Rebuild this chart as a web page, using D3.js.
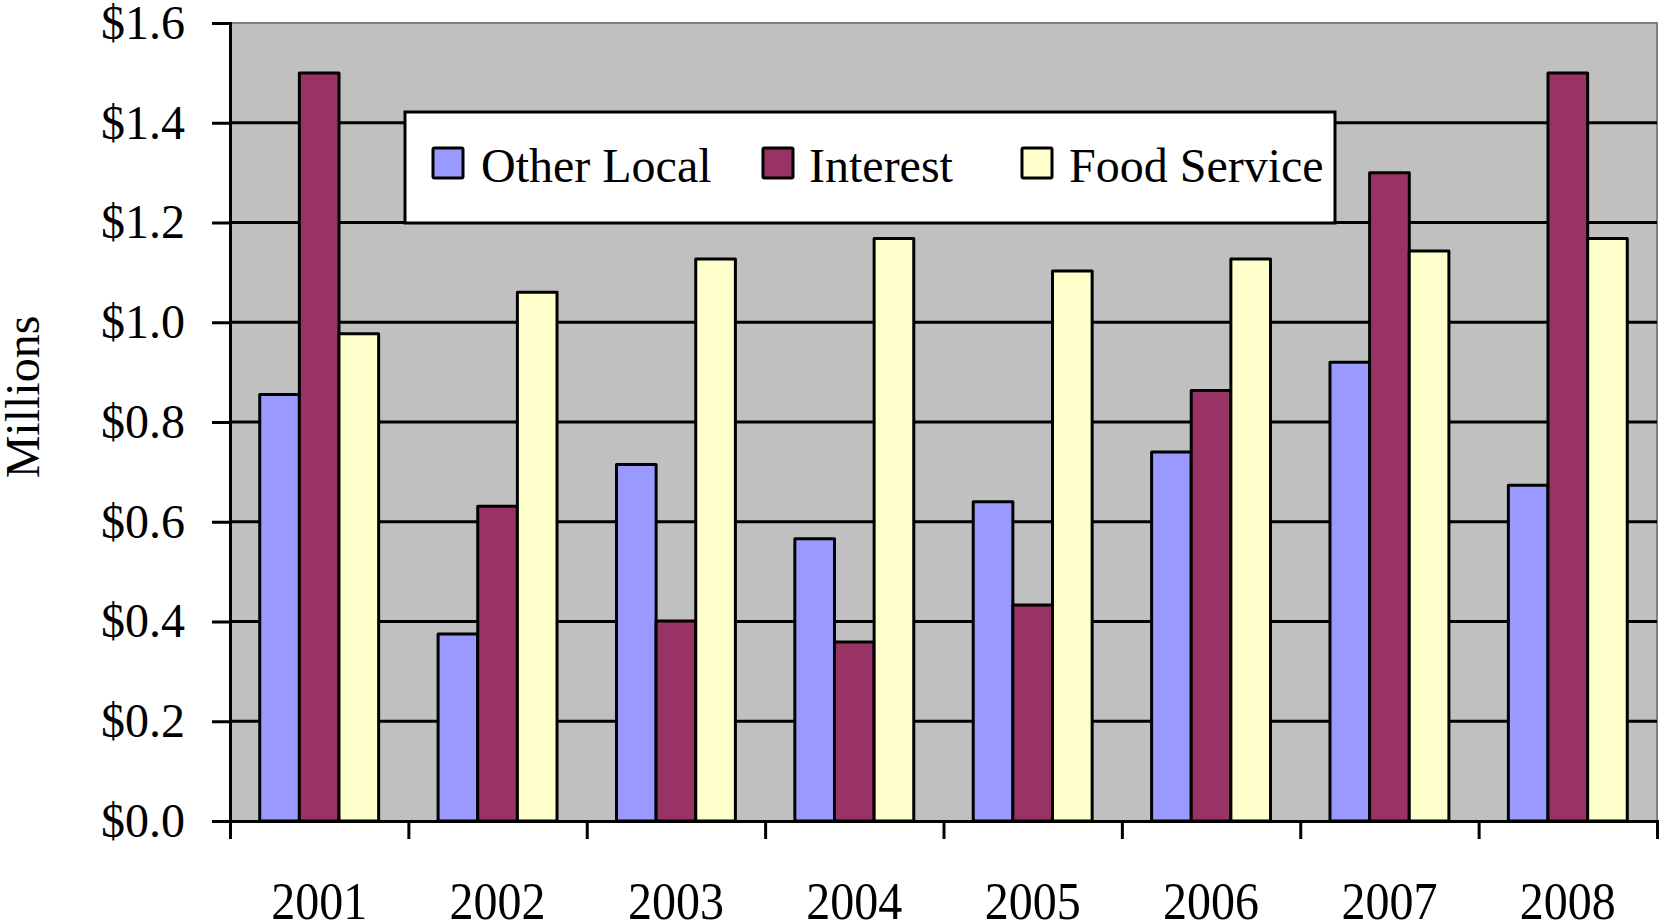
<!DOCTYPE html>
<html>
<head>
<meta charset="utf-8">
<script src="https://cdn.jsdelivr.net/npm/d3@7"></script>
<style>
  html, body { margin: 0; padding: 0; background: #ffffff; }
  svg { display: block; }
  text { font-family: "Liberation Serif", "Times New Roman", serif; fill: #000; }
</style>
</head>
<body>
<svg id="chart" width="1659" height="923"></svg>
<script>
// Revenue by year, in millions of dollars
const years = ["2001", "2002", "2003", "2004", "2005", "2006", "2007", "2008"];
const seriesNames = ["Other Local", "Interest", "Food Service"];
const otherLocal = [0.855, 0.375, 0.715, 0.566, 0.640, 0.740, 0.920, 0.673];
const interest = [1.500, 0.631, 0.401, 0.359, 0.433, 0.863, 1.300, 1.500];
const foodService = [0.977, 1.060, 1.127, 1.168, 1.103, 1.127, 1.143, 1.168];
const yTicks = [0, 0.2, 0.4, 0.6, 0.8, 1.0, 1.2, 1.4, 1.6];
const seriesColors = ["#9999FF", "#993366", "#FFFFCC"];

const seriesValues = [otherLocal, interest, foodService];

const svg = d3.select("#chart");
const plot = { left: 230, right: 1657, top: 23, bottom: 821 };

const y = d3.scaleLinear().domain([0, 1.6]).range([plot.bottom, plot.top]);

// groups: bars take 2/3 of each category slot, gaps split evenly between neighbours
const x = d3.scaleBand().domain(years)
  .range([plot.left, plot.right])
  .paddingInner(1 / 3).paddingOuter(1 / 6);
const xs = d3.scaleBand().domain(seriesNames).range([0, x.bandwidth()]).padding(0);

// category boundary positions for the tick marks
const slot = d3.scaleLinear().domain([0, years.length]).range([plot.left, plot.right]);

// plot background
svg.append("rect")
  .attr("x", plot.left).attr("y", plot.top)
  .attr("width", plot.right - plot.left).attr("height", plot.bottom - plot.top)
  .attr("fill", "#C0C0C0")
  .attr("stroke", "#808080").attr("stroke-width", 2);

// horizontal gridlines
svg.append("g")
  .selectAll("line")
  .data(yTicks.filter(d => d > 0 && d < 1.6))
  .join("line")
  .attr("x1", plot.left).attr("x2", plot.right)
  .attr("y1", d => y(d)).attr("y2", d => y(d))
  .attr("stroke", "#000").attr("stroke-width", 3);

// legend box sits over the gridlines, behind the bars
const legend = svg.append("g").attr("transform", "translate(405,112)");
legend.append("rect")
  .attr("width", 930).attr("height", 111)
  .attr("fill", "#fff").attr("stroke", "#000").attr("stroke-width", 3);
const legendSwatchX = [28, 358, 617];
const legendTextX = [76, 404, 664];
seriesNames.forEach((name, i) => {
  legend.append("rect")
    .attr("x", legendSwatchX[i]).attr("y", 36)
    .attr("width", 30).attr("height", 30)
    .attr("fill", seriesColors[i])
    .attr("stroke", "#000").attr("stroke-width", 3)
    .attr("rx", 1.5);
  legend.append("text")
    .attr("x", legendTextX[i]).attr("y", 69.5)
    .attr("font-size", 48)
    .text(name);
});

// bars
const groups = svg.append("g")
  .selectAll("g")
  .data(years)
  .join("g")
  .attr("transform", d => `translate(${x(d)},0)`);

groups.selectAll("rect")
  .data((d, i) => seriesNames.map((s, j) => ({ series: s, value: seriesValues[j][i], color: seriesColors[j] })))
  .join("rect")
  .attr("x", d => xs(d.series))
  .attr("width", xs.bandwidth())
  .attr("y", d => y(d.value))
  .attr("height", d => y(0) - y(d.value))
  .attr("fill", d => d.color)
  .attr("stroke", "#000").attr("stroke-width", 3)
  .attr("stroke-linejoin", "round");

// y axis
const yAxis = svg.append("g")
  .attr("transform", `translate(${plot.left},0)`)
  .call(d3.axisLeft(y).tickValues(yTicks).tickFormat(d => "$" + d.toFixed(1))
    .tickSize(18).tickPadding(27));
yAxis.select(".domain").attr("stroke", "#000").attr("stroke-width", 3);
yAxis.selectAll(".tick line").attr("stroke", "#000").attr("stroke-width", 3);
yAxis.selectAll("text")
  .attr("font-family", "Liberation Serif, Times New Roman, serif")
  .attr("font-size", 48).attr("fill", "#000");

// x axis line with boundary ticks
const xAxis = svg.append("g")
  .attr("transform", `translate(0,${plot.bottom})`)
  .call(d3.axisBottom(slot).tickValues(d3.range(years.length + 1)).tickSize(18).tickFormat(""));
xAxis.select(".domain").attr("stroke", "#000").attr("stroke-width", 3);
xAxis.selectAll(".tick line").attr("stroke", "#000").attr("stroke-width", 3);

// year labels
svg.append("g")
  .selectAll("text")
  .data(years)
  .join("text")
  .attr("text-anchor", "middle")
  .attr("font-size", 48)
  .attr("transform", d => `translate(${x(d) + x.bandwidth() / 2},919) scale(1,1.1)`)
  .text(d => d);

// y axis title
svg.append("text")
  .attr("text-anchor", "middle")
  .attr("font-size", 48)
  .attr("transform", "translate(39,397) rotate(-90)")
  .text("Millions");
</script>
</body>
</html>
